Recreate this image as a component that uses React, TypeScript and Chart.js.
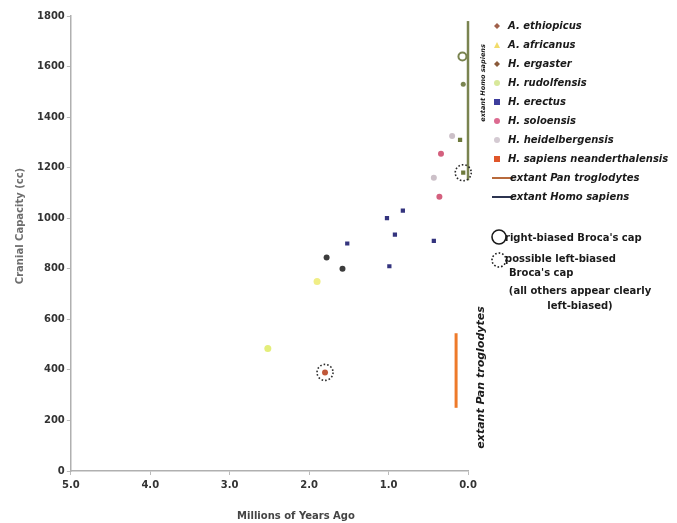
import React, { useEffect, useRef } from "react";
import { Chart, registerables } from "chart.js";

Chart.register(...registerables);

// ---- data ----
const ethiopicus = [{ x: 1.8, y: 390 }];
const africanus = [{ x: 2.52, y: 485 }];
const ergaster = [{ x: 1.78, y: 845 }, { x: 1.58, y: 800 }];
const rudolfensis = [{ x: 1.9, y: 750 }];
const erectus = [
  { x: 1.52, y: 900 }, { x: 1.02, y: 1000 }, { x: 0.82, y: 1030 },
  { x: 0.92, y: 935 }, { x: 0.99, y: 810 }, { x: 0.43, y: 910 },
];
const soloensis = [{ x: 0.36, y: 1085 }, { x: 0.34, y: 1255 }];
const heidelbergensis = [{ x: 0.43, y: 1160 }, { x: 0.2, y: 1325 }];
const neanderthalensis = [{ x: 0.1, y: 1310 }, { x: 0.06, y: 1180 }];
const panRange = [{ x: 0.15, y: 250 }, { x: 0.15, y: 545 }];
const sapiensRange = [{ x: 0.0, y: 1150 }, { x: 0.0, y: 1780 }];
const sapiensMarkers = [{ x: 0.06, y: 1530 }];
const rightBiased = [{ x: 0.07, y: 1640 }];
const possibleLeftBiased = [{ x: 1.8, y: 390 }, { x: 0.06, y: 1180 }];

const xTicks = [0, 1, 2, 3, 4, 5];
const yTicks = [0, 200, 400, 600, 800, 1000, 1200, 1400, 1600, 1800];

const legendItems = [
  { label: "A. ethiopicus", color: "#a0604a", shape: "diamond" },
  { label: "A. africanus", color: "#f2dc6a", shape: "triangle" },
  { label: "H. ergaster", color: "#8a5a3a", shape: "diamond" },
  { label: "H. rudolfensis", color: "#d8e89a", shape: "circle" },
  { label: "H. erectus", color: "#3d3d9c", shape: "rect" },
  { label: "H. soloensis", color: "#dc6a90", shape: "circle" },
  { label: "H. heidelbergensis", color: "#d4cad2", shape: "circle" },
  { label: "H. sapiens neanderthalensis", color: "#e0562a", shape: "rect" },
  { label: "extant Pan troglodytes", color: "#b86a3c", shape: "line" },
  { label: "extant Homo sapiens", color: "#2c3450", shape: "line" },
];

const FONT = "'DejaVu Sans', Verdana, sans-serif";

const overlayPlugin = {
  id: "overlay",
  beforeDatasetsDraw(chart: any) {
    const { ctx, scales } = chart;
    const xs = scales.x, ys = scales.y;
    ctx.save();
    const px = xs.getPixelForValue(panRange[0].x);
    ctx.fillStyle = "#ffffff";
    ctx.fillRect(px - 7, ys.getPixelForValue(670), 42, ys.getPixelForValue(90) - ys.getPixelForValue(670));
    ctx.restore();
  },
  afterDatasetsDraw(chart: any) {
    const { ctx, scales } = chart;
    const xs = scales.x, ys = scales.y;
    ctx.save();
    // dotted circles
    ctx.strokeStyle = "#2a2a2a";
    ctx.lineWidth = 1.6;
    ctx.setLineDash([1.6, 2]);
    possibleLeftBiased.forEach((p) => {
      ctx.beginPath();
      ctx.arc(xs.getPixelForValue(p.x), ys.getPixelForValue(p.y), 8, 0, Math.PI * 2);
      ctx.stroke();
    });
    ctx.setLineDash([]);

    // axis titles
    ctx.textAlign = "center";
    ctx.textBaseline = "middle";
    ctx.font = `bold 10px ${FONT}`;
    ctx.fillStyle = "#444";
    ctx.fillText("Millions of Years Ago", 296, 516);
    ctx.save();
    ctx.translate(20, 226);
    ctx.rotate(-Math.PI / 2);
    ctx.fillStyle = "#6e6e6e";
    ctx.fillText("Cranial Capacity (cc)", 0, 0);
    ctx.restore();

    // rotated labels
    ctx.fillStyle = "#1a1a1a";
    const panX = xs.getPixelForValue(panRange[0].x) + 25;
    ctx.save();
    ctx.translate(panX, ys.getPixelForValue(370));
    ctx.rotate(-Math.PI / 2);
    ctx.font = `italic bold 11px ${FONT}`;
    ctx.fillText("extant Pan troglodytes", 0, 0);
    ctx.restore();

    ctx.save();
    ctx.translate(xs.getPixelForValue(sapiensRange[0].x) + 15, ys.getPixelForValue(1535));
    ctx.rotate(-Math.PI / 2);
    ctx.font = `italic bold 6.5px ${FONT}`;
    ctx.fillText("extant Homo sapiens", 0, 0);
    ctx.restore();

    // legend
    const lx = 497;
    let ly = 26;
    ctx.textAlign = "left";
    ctx.font = `italic bold 10px ${FONT}`;
    legendItems.forEach((it) => {
      ctx.fillStyle = it.color;
      ctx.strokeStyle = it.color;
      if (it.shape === "diamond") {
        ctx.beginPath();
        ctx.moveTo(lx, ly - 3); ctx.lineTo(lx + 3, ly); ctx.lineTo(lx, ly + 3); ctx.lineTo(lx - 3, ly);
        ctx.closePath(); ctx.fill();
      } else if (it.shape === "triangle") {
        ctx.beginPath();
        ctx.moveTo(lx, ly - 3); ctx.lineTo(lx + 3, ly + 3); ctx.lineTo(lx - 3, ly + 3);
        ctx.closePath(); ctx.fill();
      } else if (it.shape === "circle") {
        ctx.beginPath(); ctx.arc(lx, ly, 3, 0, Math.PI * 2); ctx.fill();
      } else if (it.shape === "rect") {
        ctx.fillRect(lx - 3, ly - 3, 6, 6);
      } else {
        ctx.lineWidth = 2;
        ctx.beginPath(); ctx.moveTo(lx - 5, ly); ctx.lineTo(lx + 16, ly); ctx.stroke();
      }
      ctx.fillStyle = "#1a1a1a";
      ctx.fillText(it.label, it.shape === "line" ? lx + 13 : lx + 11, ly);
      ly += 19;
    });

    // Broca's cap legend
    ctx.font = `bold 10px ${FONT}`;
    ctx.strokeStyle = "#1a1a1a";
    ctx.lineWidth = 1.6;
    ctx.beginPath(); ctx.arc(499, 237, 7, 0, Math.PI * 2); ctx.stroke();
    ctx.fillText("right-biased Broca's cap", 505, 238);
    ctx.setLineDash([1.6, 2]);
    ctx.beginPath(); ctx.arc(499, 260, 7, 0, Math.PI * 2); ctx.stroke();
    ctx.setLineDash([]);
    ctx.fillText("possible left-biased", 505, 259);
    ctx.fillText("Broca's cap", 509, 273);
    ctx.textAlign = "center";
    ctx.fillText("(all others appear clearly", 580, 291);
    ctx.fillText("left-biased)", 580, 306);
    ctx.restore();
  },
};

function pts(data: any[], color: string, style: string, r = 3) {
  return {
    type: "scatter",
    data,
    pointStyle: style,
    pointRadius: r,
    pointBackgroundColor: color,
    pointBorderColor: color,
    pointBorderWidth: 0,
    showLine: false,
  };
}

export default function App() {
  const ref = useRef<HTMLCanvasElement>(null);
  useEffect(() => {
    const chart = new Chart(ref.current!, {
      type: "scatter",
      data: {
        datasets: [
          pts(ethiopicus, "#c0583a", "circle"),
          pts(africanus, "#e4ee7a", "circle", 3.5),
          pts(ergaster, "#3c3c3c", "circle"),
          pts(rudolfensis, "#f0ee86", "circle", 3.5),
          pts(erectus, "#34347e", "rect"),
          pts(soloensis, "#d4607e", "circle"),
          pts(heidelbergensis, "#ccc0c8", "circle"),
          pts(neanderthalensis, "#6e7a3c", "rect"),
          {
            type: "line", data: panRange, borderColor: "#ee7a2a", borderWidth: 3,
            pointRadius: 0, clip: false,
          },
          {
            type: "line", data: sapiensRange, borderColor: "#7a8450", borderWidth: 2.5,
            pointRadius: 0, clip: false,
          },
          { ...pts(sapiensMarkers, "#7a8450", "circle", 2.5), clip: false },
          {
            type: "scatter", data: rightBiased, pointStyle: "circle", pointRadius: 4,
            pointBackgroundColor: "rgba(0,0,0,0)", pointBorderColor: "#7a8450",
            pointBorderWidth: 2, clip: false,
          },
        ] as any,
      },
      options: {
        animation: false,
        responsive: false,
        devicePixelRatio: 1,
        layout: { padding: { left: 35, right: 209, top: 16, bottom: 28 } },
        plugins: { legend: { display: false }, tooltip: { enabled: false } },
        scales: {
          x: {
            type: "linear",
            reverse: true,
            min: 0,
            max: 5,
            afterBuildTicks: (s: any) => { s.ticks = xTicks.map((v) => ({ value: v })); },
            ticks: {
              callback: (v: any) => Number(v).toFixed(1),
              font: { family: FONT, size: 10, weight: "bold" },
              color: "#333",
              padding: 4,
            },
            grid: { display: true, drawOnChartArea: false, tickLength: 4, color: "#bbb" },
            border: { color: "#b0b0b0", width: 1.5 },
          },
          y: {
            min: 0,
            max: 1800,
            afterBuildTicks: (s: any) => { s.ticks = yTicks.map((v) => ({ value: v })); },
            ticks: {
              callback: (v: any) => String(v),
              font: { family: FONT, size: 10, weight: "bold" },
              color: "#333",
              padding: 2,
            },
            grid: { display: true, drawOnChartArea: false, tickLength: 4, color: "#bbb" },
            border: { color: "#b0b0b0", width: 1.5 },
          },
        },
      },
      plugins: [overlayPlugin],
    } as any);
    return () => chart.destroy();
  }, []);
  return (
    <div style={{ position: "fixed", left: 0, top: 0, width: 677, height: 523, background: "#fff" }}>
      <canvas ref={ref} width={677} height={523} />
    </div>
  );
}
